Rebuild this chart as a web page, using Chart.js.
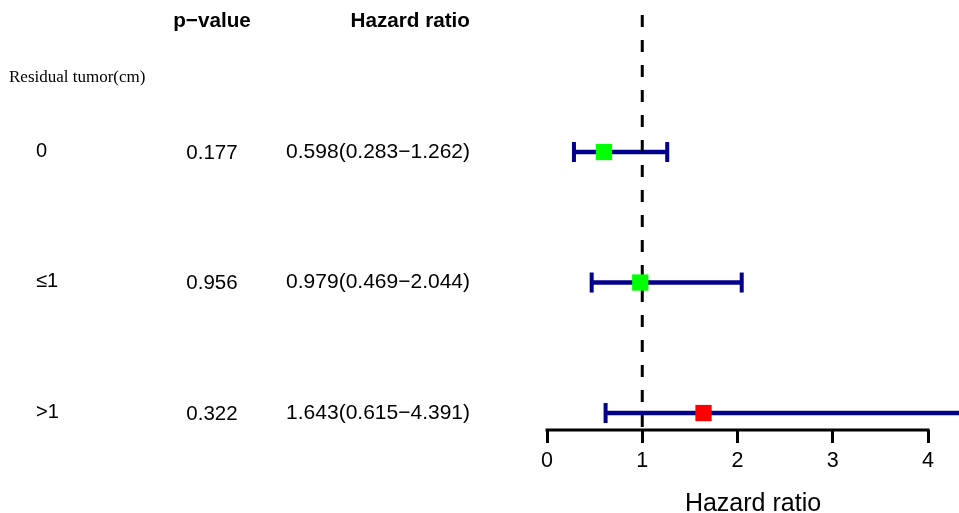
<!DOCTYPE html>
<html>
<head>
<meta charset="utf-8">
<script src="https://cdn.jsdelivr.net/npm/chart.js@4.4.1/dist/chart.umd.min.js"></script>
<style>
  html, body { margin: 0; padding: 0; background: #fff; overflow: hidden; }
  canvas { display: block; }
</style>
</head>
<body>
<canvas id="forest" width="959" height="513"></canvas>
<script>
// forest plot data
const groups = ["0", "\u22641", ">1"];
const pValues = ["0.177", "0.956", "0.322"];
const hazardRatio = [0.598, 0.979, 1.643];
const lowerCI = [0.283, 0.469, 0.615];
const upperCI = [1.262, 2.044, 4.391];
const markerColors = ["#00ff00", "#00ff00", "#ff0000"];
const rowPos = [3, 2, 1];
const xTicks = [0, 1, 2, 3, 4];
const refLine = 1;

const navy = "#00008b";
const sans = "'Liberation Sans', Arial, sans-serif";
const yBottom = 0.87, yTop = 4.05;

function hrLabel(i) {
  return hazardRatio[i].toFixed(3) + "(" + lowerCI[i].toFixed(3) + "\u2212" + upperCI[i].toFixed(3) + ")";
}

const tablePlugin = {
  id: "table",
  afterDraw(chart) {
    const { ctx, chartArea } = chart;
    const xs = chart.scales.x, ys = chart.scales.y;
    ctx.save();
    // axis line only between first and last tick, like R's axis()
    ctx.strokeStyle = "#000";
    ctx.lineWidth = 3;
    ctx.beginPath();
    ctx.moveTo(xs.getPixelForValue(xTicks[0]) - 1.5, chartArea.bottom);
    ctx.lineTo(xs.getPixelForValue(xTicks[xTicks.length - 1]) + 1.5, chartArea.bottom);
    ctx.stroke();

    ctx.fillStyle = "#000";
    ctx.textBaseline = "middle";
    ctx.font = "bold 20.7px " + sans;
    ctx.textAlign = "center";
    ctx.fillText("p\u2212value", 212, 21);
    ctx.textAlign = "right";
    ctx.fillText("Hazard ratio", 470, 21);

    ctx.font = "17px 'Liberation Serif', 'Times New Roman', serif";
    ctx.textAlign = "left";
    ctx.fillText("Residual tumor(cm)", 9, 78);

    groups.forEach((g, i) => {
      const py = ys.getPixelForValue(rowPos[i]);
      ctx.font = "20px " + sans;
      ctx.textAlign = "left";
      ctx.fillText(g, 36, py - 1);
      ctx.font = "20.5px " + sans;
      ctx.textAlign = "center";
      ctx.fillText(pValues[i], 212, py + 1);
      ctx.font = "21px " + sans;
      ctx.textAlign = "right";
      ctx.fillText(hrLabel(i), 470, py);
    });
    ctx.restore();
  }
};

const datasets = [
  {
    type: "scatter",
    data: hazardRatio.map((v, i) => ({ x: v, y: rowPos[i] })),
    pointStyle: "rect",
    pointRadius: 11.5,
    pointHoverRadius: 11.5,
    pointBackgroundColor: markerColors,
    pointBorderWidth: 0,
    showLine: false
  },
  {
    type: "line",
    data: [{ x: refLine, y: yTop }, { x: refLine, y: yBottom }],
    borderColor: "#000",
    borderWidth: 3,
    borderDash: [12, 13],
    pointRadius: 0
  }
];
hazardRatio.forEach((v, i) => {
  datasets.push({
    type: "line",
    data: [{ x: lowerCI[i], y: rowPos[i] }, { x: upperCI[i], y: rowPos[i] }],
    borderColor: navy,
    borderWidth: 4.5,
    pointStyle: "line",
    pointRotation: 90,
    pointRadius: 10,
    pointHoverRadius: 10,
    pointBorderWidth: 4,
    pointBorderColor: navy
  });
});

new Chart(document.getElementById("forest"), {
  data: { datasets },
  options: {
    responsive: false,
    animation: false,
    layout: { autoPadding: false, padding: { left: 547, top: 15, right: 0, bottom: 0 } },
    plugins: { legend: { display: false }, tooltip: { enabled: false } },
    scales: {
      x: {
        type: "linear",
        min: 0,
        max: 4.325,
        afterBuildTicks: s => { s.ticks = xTicks.map(v => ({ value: v })); },
        afterFit: s => { s.height = 83; },
        border: { display: false },
        grid: { drawOnChartArea: false, drawTicks: true, tickLength: 13, color: "#000", lineWidth: 3 },
        ticks: { color: "#000", font: { family: sans, size: 21.5 }, padding: 5, maxRotation: 0, autoSkip: false },
        title: { display: true, text: "Hazard ratio", color: "#000", font: { family: sans, size: 25, lineHeight: "18px" }, padding: 0 }
      },
      y: { type: "linear", display: false, min: yBottom, max: yTop }
    }
  },
  plugins: [tablePlugin]
});
</script>
</body>
</html>
